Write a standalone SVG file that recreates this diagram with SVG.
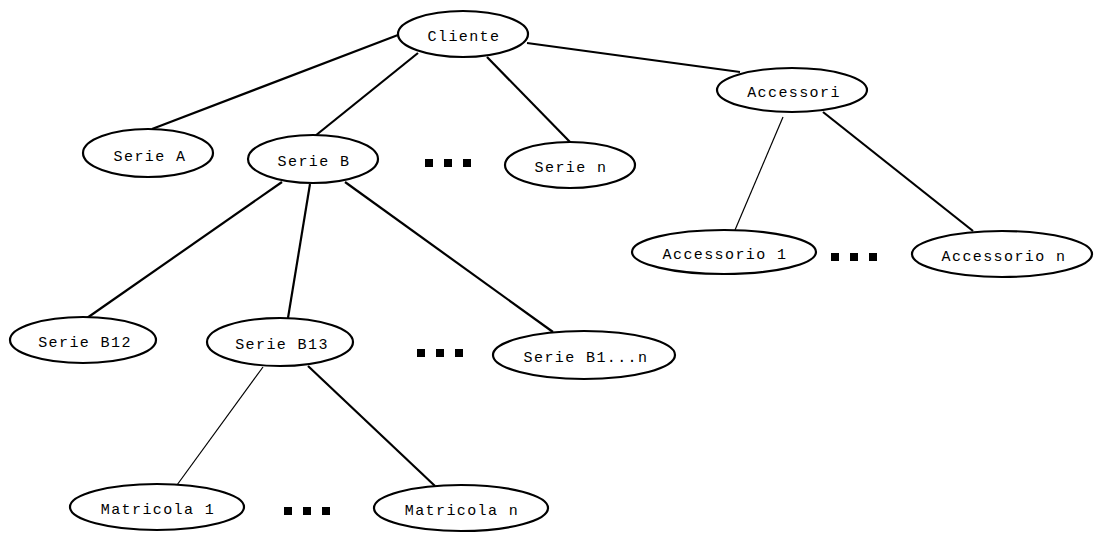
<svg xmlns="http://www.w3.org/2000/svg" width="1094" height="533" viewBox="0 0 1094 533">
  <style>
    .node ellipse { fill: #ffffff; stroke: #000000; stroke-width: 2.2; }
    .node text { font-family: "Liberation Mono", "Courier New", monospace; font-size: 15px; letter-spacing: 1.4px; text-anchor: middle; fill: #000000; }
    .edge { stroke: #000000; stroke-width: 2.2; fill: none; }
    .edge.thin { stroke-width: 1.2; }
    .dots rect { fill: #000000; }
  </style>
  <defs>
    <g id="ellipsis">
      <rect x="0" y="0" width="8" height="8"/>
      <rect x="19" y="0" width="8" height="8"/>
      <rect x="38" y="0" width="8" height="8"/>
    </g>
  </defs>
  <rect x="0" y="0" width="1094" height="533" fill="#ffffff"/>

  <!-- connectors -->
  <g id="connectors">
    <line class="edge" x1="398" y1="35" x2="152" y2="129"/>
    <line class="edge" x1="418" y1="53" x2="315" y2="136"/>
    <line class="edge" x1="487" y1="57" x2="570" y2="142"/>
    <line class="edge" x1="527" y1="43" x2="740" y2="72"/>
    <line class="edge thin" x1="783" y1="117" x2="735" y2="230"/>
    <line class="edge" x1="823" y1="112" x2="973" y2="231"/>
    <line class="edge" x1="282" y1="182" x2="87" y2="318"/>
    <line class="edge" x1="310" y1="184" x2="288" y2="318"/>
    <line class="edge" x1="345" y1="182" x2="553" y2="332"/>
    <line class="edge thin" x1="263" y1="367" x2="177" y2="485"/>
    <line class="edge" x1="308" y1="366" x2="435" y2="486"/>
  </g>

  <!-- nodes -->
  <g id="cliente" class="node">
    <ellipse cx="463" cy="34" rx="65" ry="23"/>
    <text x="464" y="41">Cliente</text>
  </g>
  <g id="serie-a" class="node">
    <ellipse cx="148" cy="153" rx="65" ry="24"/>
    <text x="150" y="161">Serie A</text>
  </g>
  <g id="serie-b" class="node">
    <ellipse cx="313" cy="159" rx="65" ry="24"/>
    <text x="314" y="166">Serie B</text>
  </g>
  <g id="serie-n" class="node">
    <ellipse cx="570" cy="165" rx="65" ry="23"/>
    <text x="571" y="172">Serie n</text>
  </g>
  <g id="accessori" class="node">
    <ellipse cx="792" cy="90" rx="75" ry="22"/>
    <text x="794" y="97">Accessori</text>
  </g>
  <g id="accessorio-1" class="node">
    <ellipse cx="724" cy="252" rx="92" ry="22"/>
    <text x="725" y="259">Accessorio 1</text>
  </g>
  <g id="accessorio-n" class="node">
    <ellipse cx="1002" cy="254" rx="90" ry="23"/>
    <text x="1004" y="261">Accessorio n</text>
  </g>
  <g id="serie-b12" class="node">
    <ellipse cx="83" cy="340" rx="73" ry="23"/>
    <text x="85" y="347">Serie B12</text>
  </g>
  <g id="serie-b13" class="node">
    <ellipse cx="280" cy="342" rx="73" ry="24"/>
    <text x="282" y="349">Serie B13</text>
  </g>
  <g id="serie-b1n" class="node">
    <ellipse cx="584" cy="355" rx="91" ry="24"/>
    <text x="586" y="362">Serie B1...n</text>
  </g>
  <g id="matricola-1" class="node">
    <ellipse cx="157" cy="507" rx="87" ry="23"/>
    <text x="158" y="514">Matricola 1</text>
  </g>
  <g id="matricola-n" class="node">
    <ellipse cx="461" cy="508" rx="87" ry="23"/>
    <text x="462" y="515">Matricola n</text>
  </g>

  <!-- ellipsis marks between siblings -->
  <g class="dots">
    <use href="#ellipsis" x="425" y="159"/>
    <use href="#ellipsis" x="831" y="253"/>
    <use href="#ellipsis" x="417" y="349"/>
    <use href="#ellipsis" x="284" y="507"/>
  </g>
</svg>
